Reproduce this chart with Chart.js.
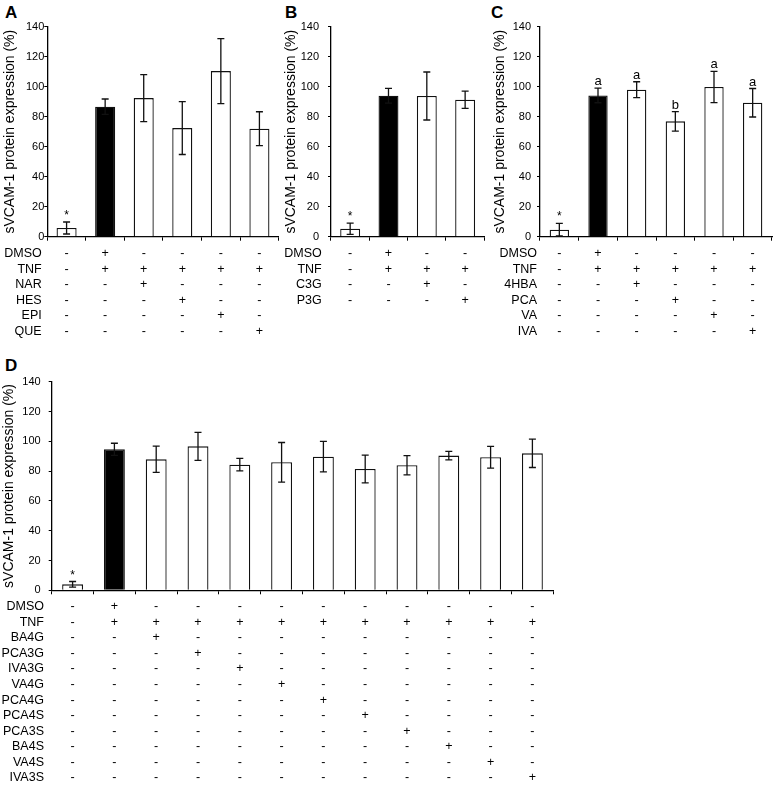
<!DOCTYPE html>
<html>
<head>
<meta charset="utf-8">
<script src="https://cdn.jsdelivr.net/npm/chart.js@4.4.0/dist/chart.umd.min.js"></script>
<style>
  body { margin: 0; background: #fff; }
  #fig { position: relative; width: 774px; height: 785px; }
  canvas { position: absolute; }
  .letter { position: absolute; font: bold 17px "Liberation Sans", Arial, sans-serif; line-height: 1; color: #000; }
</style>
</head>
<body>
<div id="fig">
  <div class="letter" style="left:5px;top:4px">A</div>
  <div class="letter" style="left:285px;top:4px">B</div>
  <div class="letter" style="left:491px;top:4px">C</div>
  <div class="letter" style="left:5px;top:357px">D</div>
  <canvas id="chartA"></canvas>
  <canvas id="chartB"></canvas>
  <canvas id="chartC"></canvas>
  <canvas id="chartD"></canvas>
</div>
<script>
const FONT = "'Liberation Sans', Arial, sans-serif";
const yTitle = "sVCAM-1 protein expression (%)";

// === A ===
const catsA = ["Control", "TNF", "NAR", "HES", "EPI", "QUE"];
const valuesA = [5.8, 86.7, 92.4, 72.4, 110.4, 72.0];
const errorsA = [4.0, 5.1, 15.7, 17.6, 21.7, 11.3];
const marksA = ["*", "", "", "", "", ""];
const rowsA = ["DMSO", "TNF", "NAR", "HES", "EPI", "QUE"];
const signsA = ["-+----", "-+++++", "--+---", "---+--", "----+-", "-----+"];

// === B ===
const catsB = ["Control", "TNF", "C3G", "P3G"];
const valuesB = [5.3, 94.0, 93.8, 91.3];
const errorsB = [3.8, 4.9, 16.0, 5.8];
const marksB = ["*", "", "", ""];
const rowsB = ["DMSO", "TNF", "C3G", "P3G"];
const signsB = ["-+--", "-+++", "--+-", "---+"];

// === C ===
const catsC = ["Control", "TNF", "4HBA", "PCA", "VA", "IVA"];
const valuesC = [4.7, 94.2, 98.0, 76.9, 99.8, 89.3];
const errorsC = [4.2, 4.9, 5.3, 6.5, 10.4, 9.5];
const marksC = ["*", "a", "a", "b", "a", "a"];
const rowsC = ["DMSO", "TNF", "4HBA", "PCA", "VA", "IVA"];
const signsC = ["-+----", "-+++++", "--+---", "---+--", "----+-", "-----+"];

// === D ===
const catsD = ["Control", "TNF", "BA4G", "PCA3G", "IVA3G", "VA4G", "PCA4G", "PCA4S", "PCA3S", "BA4S", "VA4S", "IVA3S"];
const valuesD = [4.0, 94.6, 87.9, 96.6, 84.3, 85.9, 89.7, 81.4, 83.9, 90.4, 89.3, 91.9];
const errorsD = [1.9, 4.1, 8.8, 9.4, 4.2, 13.3, 10.2, 9.3, 6.5, 2.9, 7.3, 9.5];
const marksD = ["*", "", "", "", "", "", "", "", "", "", "", ""];
const rowsD = ["DMSO", "TNF", "BA4G", "PCA3G", "IVA3G", "VA4G", "PCA4G", "PCA4S", "PCA3S", "BA4S", "VA4S", "IVA3S"];
const signsD = [
  "-+----------", "-+++++++++++", "--+---------", "---+--------",
  "----+-------", "-----+------", "------+-----", "-------+----",
  "--------+---", "---------+--", "----------+-", "-----------+"
];

// error bars, letters above bars and the +/- table under the axis
function extras(p) {
  return {
    id: "extras",
    afterDatasetsDraw(chart) {
      const { ctx, chartArea } = chart;
      const x = chart.scales.x, y = chart.scales.y;
      ctx.save();
      ctx.strokeStyle = "#111";
      ctx.fillStyle = "#000";
      ctx.lineWidth = 1.3;
      p.values.forEach((v, i) => {
        const cx = x.getPixelForValue(i);
        const hi = y.getPixelForValue(v + p.errors[i]);
        const lo = y.getPixelForValue(v - p.errors[i]);
        ctx.beginPath();
        ctx.moveTo(cx, hi); ctx.lineTo(cx, lo);
        ctx.moveTo(cx - 3.5, hi); ctx.lineTo(cx + 3.5, hi);
        ctx.moveTo(cx - 3.5, lo); ctx.lineTo(cx + 3.5, lo);
        ctx.stroke();
        if (p.marks[i]) {
          ctx.font = (p.marks[i] === "*" ? "12px " : "13px ") + FONT;
          ctx.textAlign = "center";
          ctx.textBaseline = "alphabetic";
          ctx.fillText(p.marks[i], cx, hi - 3);
        }
      });
      ctx.font = "12.5px " + FONT;
      ctx.textBaseline = "middle";
      p.rows.forEach((name, r) => {
        const ty = chartArea.bottom + p.rowStart + r * p.rowGap;
        ctx.textAlign = "right";
        ctx.fillText(name, p.rowLabelX, ty);
        ctx.textAlign = "center";
        p.signs[r].split("").forEach((s, i) => ctx.fillText(s, x.getPixelForValue(i), ty));
      });
      ctx.restore();
    }
  };
}

function drawPanel(p) {
  const cv = document.getElementById(p.id);
  cv.width = p.w; cv.height = p.h;
  cv.style.left = p.x + "px"; cv.style.top = p.y + "px";
  new Chart(cv, {
    type: "bar",
    data: {
      labels: p.cats,
      datasets: [{
        data: p.values,
        backgroundColor: p.values.map((_, i) => i === 1 ? "#000" : "#fff"),
        borderColor: "#111",
        borderWidth: 1.3,
        barPercentage: p.barPct,
        categoryPercentage: 1
      }]
    },
    options: {
      responsive: false,
      animation: false,
      layout: { padding: { left: 0, top: p.top, right: p.w - p.right, bottom: 0 } },
      plugins: { legend: { display: false }, tooltip: { enabled: false } },
      scales: {
        x: {
          ticks: { display: false },
          grid: { drawOnChartArea: false, tickLength: 4, color: "#000" },
          border: { color: "#000", width: 1.3 },
          afterFit: s => { s.height = p.h - p.bottom; }
        },
        y: {
          min: 0, max: 140,
          ticks: { stepSize: 20, color: "#000", font: { family: FONT, size: 11 }, padding: p.tickPad },
          grid: { drawOnChartArea: false, tickLength: 3, color: "#000" },
          border: { color: "#000", width: 1.3 },
          title: { display: true, text: yTitle, color: "#000", font: { family: FONT, size: 14 }, padding: { top: p.titlePad, bottom: 0 } },
          afterFit: s => { s.width = p.left; }
        }
      }
    },
    plugins: [extras(p)]
  });
}

drawPanel({ id: "chartA", x: 0, y: 0, w: 282, h: 345, left: 47.3, right: 278.7, top: 26.7, bottom: 236.7,
  cats: catsA, values: valuesA, errors: errorsA, marks: marksA, rows: rowsA, signs: signsA,
  barPct: 0.52, tickPad: 0, titlePad: 1.6, rowLabelX: 41.7, rowStart: 17.3, rowGap: 15.5 });

drawPanel({ id: "chartB", x: 250, y: 0, w: 236, h: 345, left: 81, right: 234.3, top: 26.7, bottom: 236.7,
  cats: catsB, values: valuesB, errors: errorsB, marks: marksB, rows: rowsB, signs: signsB,
  barPct: 0.52, tickPad: 9, titlePad: 32.6, rowLabelX: 71.7, rowStart: 17.3, rowGap: 15.5 });

drawPanel({ id: "chartC", x: 488, y: 0, w: 286, h: 345, left: 52, right: 284, top: 26.7, bottom: 236.7,
  cats: catsC, values: valuesC, errors: errorsC, marks: marksC, rows: rowsC, signs: signsC,
  barPct: 0.5, tickPad: 6, titlePad: 3.6, rowLabelX: 49, rowStart: 17.3, rowGap: 15.5 });

drawPanel({ id: "chartD", x: 0, y: 350, w: 560, h: 435, left: 51.7, right: 553.3, top: 31.7, bottom: 240.3,
  cats: catsD, values: valuesD, errors: errorsD, marks: marksD, rows: rowsD, signs: signsD,
  barPct: 0.5, tickPad: 8, titlePad: 0.6, rowLabelX: 44, rowStart: 16.4, rowGap: 15.57 });
</script>
</body>
</html>
